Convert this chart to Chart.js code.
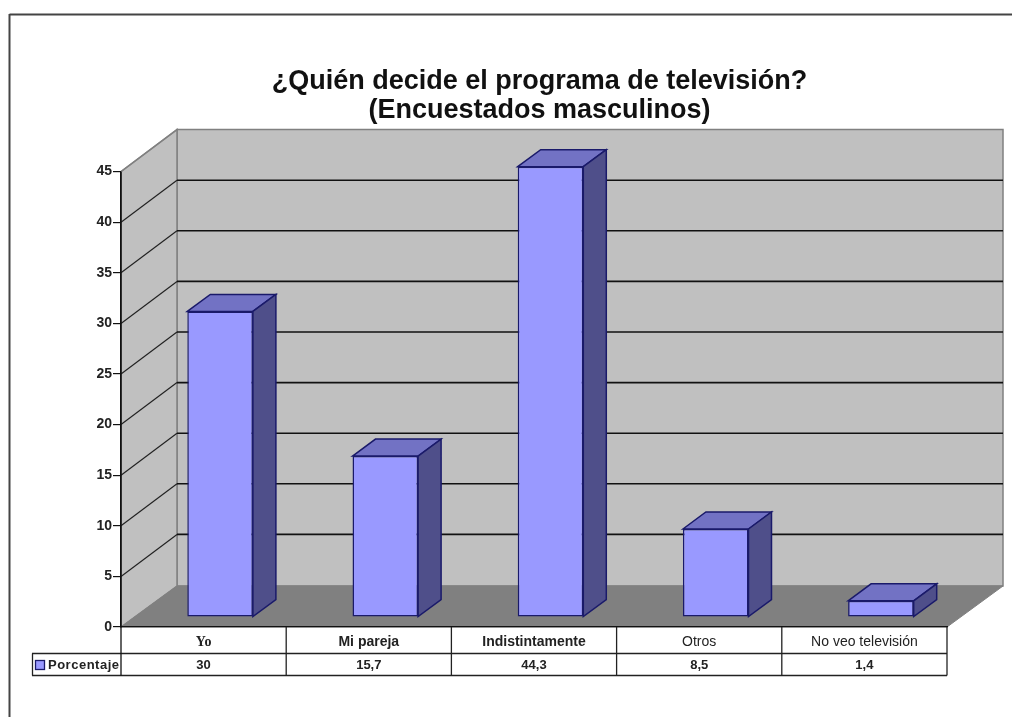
<!DOCTYPE html>
<html><head><meta charset="utf-8">
<style>html,body{margin:0;padding:0;background:#fff}canvas{display:block}</style>
<script src="https://cdn.jsdelivr.net/npm/chart.js@4"></script>
</head><body><canvas id="c" width="1012" height="717"></canvas>
<script>
const categories = ['Yo','Mi pareja','Indistintamente','Otros','No veo televisión'];
const porcentaje = [30,15.7,44.3,8.5,1.4];
const seriesName = 'Porcentaje';
const titleLines = ['¿Quién decide el programa de televisión?','(Encuestados masculinos)'];
const WALL={dx:56,dy:-42}, BAR={dx:16.5,dy:-12}, BOX={dx:23,dy:-17};
const poly=(ctx,pts,fill,stroke,lw)=>{ctx.beginPath();pts.forEach((p,i)=>i?ctx.lineTo(p[0],p[1]):ctx.moveTo(p[0],p[1]));ctx.closePath();
  if(fill){ctx.fillStyle=fill;ctx.fill();} if(stroke){ctx.strokeStyle=stroke;ctx.lineWidth=lw||1;ctx.stroke();}};
const line=(ctx,x1,y1,x2,y2,c,w)=>{ctx.beginPath();ctx.moveTo(x1,y1);ctx.lineTo(x2,y2);ctx.strokeStyle=c;ctx.lineWidth=w||1;ctx.stroke();};
const plugin3d={id:'plugin3d',
  afterLayout(chart){const t=chart.titleBlock; t.left+=66; t.right+=66;},
  beforeDraw(chart){const ctx=chart.ctx,{left:l,right:r,top:t,bottom:b}=chart.chartArea,y=chart.scales.y,{dx,dy}=WALL;
    ctx.save();
    line(ctx,9.5,14.5,1012,14.5,'#444',2); line(ctx,9.5,14,9.5,717,'#444',2);
    poly(ctx,[[l+dx,t+dy],[r+dx,t+dy],[r+dx,b+dy+1],[l+dx,b+dy+1]],'#c0c0c0','#808080',1.5);
    poly(ctx,[[l,t],[l+dx,t+dy],[l+dx,b+dy+1],[l,b]],'#c0c0c0','#808080',1.5);
    poly(ctx,[[l,b],[l+dx,b+dy+1],[r+dx,b+dy+1],[r,b]],'#808080','#808080',1);
    y.ticks.forEach(tk=>{if(tk.value===0||tk.value===45)return;const p=y.getPixelForValue(tk.value);
      line(ctx,l,p,l+dx,p+dy,'#222',1.2); line(ctx,l+dx,p+dy,r+dx,p+dy,'#111',1.6);});
    line(ctx,l,t,l+dx,t+dy,'#808080',1.2);
    ctx.restore();},
  beforeDatasetDraw(chart,args){const ctx=chart.ctx;ctx.save();ctx.translate(BAR.dx,BAR.dy);
    args.meta.data.forEach(el=>{const a=el.x-el.width/2,c=el.x+el.width/2,{dx,dy}=BOX;
      poly(ctx,[[a,el.y],[a+dx,el.y+dy],[c+dx,el.y+dy],[c,el.y]],'#7272c4','#1a1a6a',1.5);
      poly(ctx,[[c,el.y],[c+dx,el.y+dy],[c+dx,el.base+dy],[c,el.base]],'#4f4f8a','#1a1a6a',1.5);});},
  afterDatasetDraw(chart){chart.ctx.restore();},
  afterDraw(chart){const ctx=chart.ctx,xs=chart.scales.x,{left:l,right:r,bottom:b}=chart.chartArea;
    const r1=653.5,r2=675.5,cw=xs.width/categories.length,c='#222';
    ctx.save();
    line(ctx,32,r1,r,r1,c,1.3); line(ctx,32,r2,r,r2,c,1.3); line(ctx,32.5,r1,32.5,r2,c,1.3);
    line(ctx,l,172,l,r2,'#111',1.3);
    categories.forEach((_,i)=>{const e=xs.getPixelForValue(i)+cw/2;line(ctx,e,b,e,r2,c,1.3);});
    ctx.textBaseline='middle';ctx.textAlign='center';ctx.fillStyle='#222';ctx.font='bold 13px "Liberation Sans"';
    porcentaje.forEach((v,i)=>ctx.fillText(String(v).replace('.',','),xs.getPixelForValue(i),665));
    ctx.fillStyle='#9999ff';ctx.fillRect(35.5,660.5,9,9);ctx.strokeStyle='#1a1a6a';ctx.lineWidth=1.3;ctx.strokeRect(35.5,660.5,9,9);
    ctx.textAlign='left';ctx.fillStyle='#222';
    ctx.beginPath();ctx.rect(32,654,89,21);ctx.clip();
    ctx.letterSpacing='0.5px';ctx.fillText(seriesName,48,665);
    ctx.restore();}
};
new Chart(document.getElementById('c'),{type:'bar',
  data:{labels:categories,datasets:[{label:seriesName,data:porcentaje,backgroundColor:'#9999ff',borderColor:'#1a1a6a',borderWidth:1.5,borderSkipped:false,
    base:-0.15,barPercentage:1,categoryPercentage:0.397,clip:false}]},
  plugins:[plugin3d],
  options:{responsive:false,animation:false,
    layout:{padding:{left:0,right:65,top:0,bottom:0}},
    plugins:{legend:{display:false},tooltip:{enabled:false},
      title:{display:true,text:titleLines,color:'#111',font:{family:'"Liberation Sans"',size:27,weight:'bold',lineHeight:1.074},padding:{top:67,bottom:46.6}}},
    scales:{
      x:{afterFit(s){s.height=90;},grid:{display:false},border:{display:true,color:'#111',width:1.3},
        ticks:{autoSkip:false,maxRotation:0,padding:-1,color:'#222',
          font:c=>({family:c.index===0?'"Liberation Serif"':'"Liberation Sans"',size:14,weight:c.index<3?'bold':'normal'})}},
      y:{min:0,max:45,afterFit(s){s.width=121;},
        grid:{drawOnChartArea:false,drawTicks:true,tickLength:8,color:'#111',lineWidth:1.2},border:{display:true,color:'#111',width:1.3},
        ticks:{stepSize:5,padding:1,color:'#222',font:{family:'"Liberation Sans"',size:14,weight:'bold'}}}
    }}});
</script></body></html>
